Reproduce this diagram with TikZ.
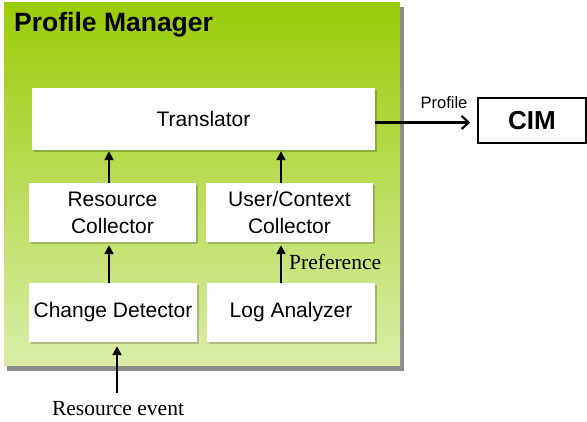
\documentclass[tikz,border=0pt]{standalone}
\usepackage{fontspec}
\setmainfont{Liberation Sans}
\newfontfamily\serifx{Liberation Serif}
\usetikzlibrary{shadows,arrows.meta}
\definecolor{gtop}{RGB}{154,204,8}
\definecolor{gbot}{RGB}{218,237,168}
\tikzset{
  wbox/.style={fill=white, draw=none, inner sep=0pt, align=center,
    font=\fontsize{21}{27}\selectfont,
    drop shadow={shadow xshift=2pt, shadow yshift=-2pt, fill=black, opacity=0.2}},
  uparr/.style={-{Triangle[length=9pt,width=9pt]}, line width=2.6pt},
  serlab/.style={font=\serifx\fontsize{21.5}{24}\selectfont, inner sep=0pt},
}
\begin{document}
\begin{tikzpicture}[x=1pt,y=-1pt]
\useasboundingbox (0,0) rectangle (587,422);
% panel shadow and panel
\fill[black!45] (7,7) rectangle (404,371);
\shade[top color=gtop, bottom color=gbot] (4,3) rectangle (400,366);
\node[anchor=west, inner sep=0pt, font=\bfseries\fontsize{26.5}{28}\selectfont] (title) at (14,25) {Profile Manager};
% boxes
\node[wbox, minimum width=343pt, minimum height=62pt] (tr) at (203.5,119) {Translator};
\node[wbox, minimum width=167pt, minimum height=59pt] (rc) at (112.5,212.5) {Resource\\Collector};
\node[wbox, minimum width=167pt, minimum height=59pt] (uc) at (289.5,212.5) {User/Context\\Collector};
\node[wbox, minimum width=168pt, minimum height=59pt] (cd) at (113,312.5) {Change Detector};
\node[wbox, minimum width=168pt, minimum height=59pt] (la) at (291,312.5) {Log Analyzer};
% CIM
\node[draw=black, line width=1.4pt, fill=white, minimum width=108pt, minimum height=45pt, inner sep=0pt,
  font=\bfseries\fontsize{26}{28}\selectfont] (cim) at (532,120.5) {CIM};
% arrow columns
\coordinate (ca) at (109,0);
\coordinate (cb) at (281,0);
\draw[uparr] (rc.north -| ca) -- ([yshift=-1pt]tr.south -| ca);
\draw[uparr] (uc.north -| cb) -- ([yshift=-1pt]tr.south -| cb);
\draw[uparr] (cd.north -| ca) -- ([yshift=-3pt]rc.south -| ca);
\draw[uparr] (la.north -| cb) -- ([yshift=-3pt]uc.south -| cb);
\node[serlab, anchor=west] (pref) at (289,262) {Preference};
% resource event
\node[serlab] (rev) at (118,409) {Resource event};
\coordinate (evs) at (117,393);
\draw[uparr] (evs) -- ([yshift=-4pt]cd.south -| evs);
% profile arrow
\coordinate (pa) at (0,122.5);
\draw[line width=2.4pt, -{Straight Barb[length=7pt,width=13pt,line width=2.2pt]}, shorten >=7pt]
  (tr.east |- pa) -- (cim.west |- pa);
\node[inner sep=0pt, font=\fontsize{16.5}{18}\selectfont] (plab) at (444,103) {Profile};
\end{tikzpicture}
\end{document}
